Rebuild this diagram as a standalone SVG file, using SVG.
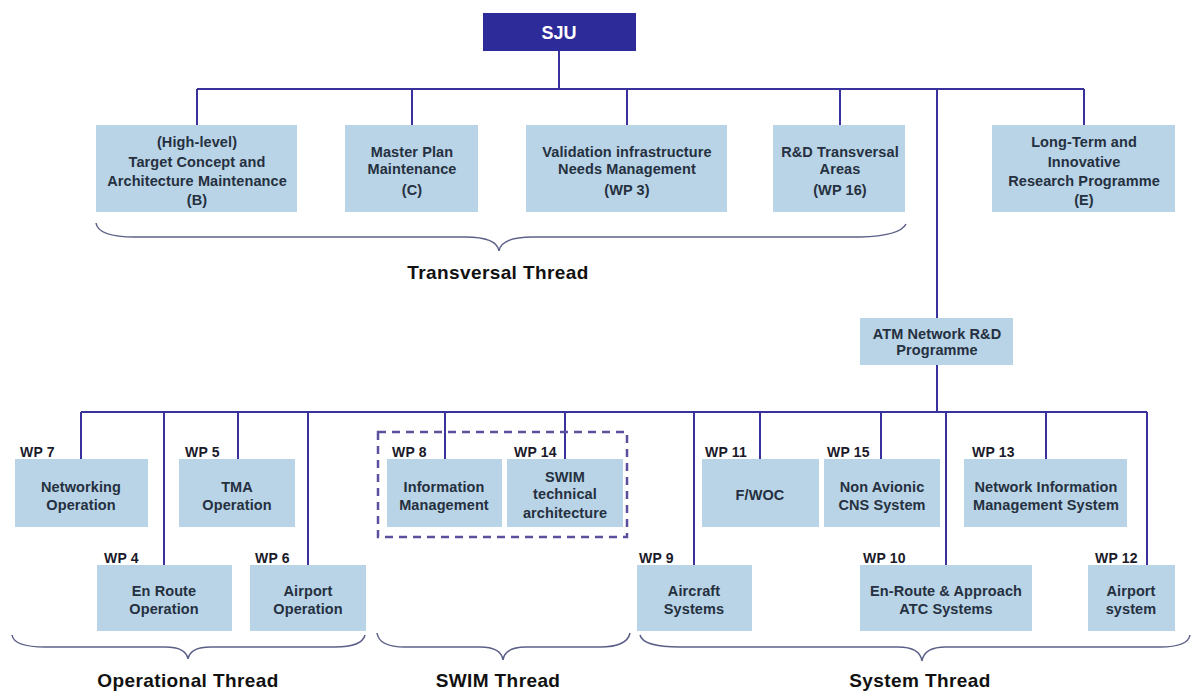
<svg xmlns="http://www.w3.org/2000/svg" width="1194" height="691" viewBox="0 0 1194 691">
<style>
.box{fill:#b9d4e6}
.t{font-family:"Liberation Sans",Arial,sans-serif;font-weight:bold;font-size:14.5px;fill:#253040;text-anchor:middle;letter-spacing:0.1px}
.wp{font-family:"Liberation Sans",Arial,sans-serif;font-weight:bold;font-size:14px;fill:#1a1a2a;letter-spacing:0.2px}
.th{font-family:"Liberation Sans",Arial,sans-serif;font-weight:bold;font-size:19px;fill:#111;text-anchor:middle;letter-spacing:0.4px}
.ln{stroke:#3a329c;stroke-width:2;fill:none}
.br{stroke:#5c6088;stroke-width:1.5;fill:none}
</style>
<rect width="1194" height="691" fill="#ffffff"/>
<g id="connectors">
<path class="ln" d="M559,51 V89 M197,89 H1084 M197,89 V125 M412,89 V125 M627,89 V125 M840,89 V125 M1084,89 V125 M937,89 V318"/>
<path class="ln" d="M937,365 V412" stroke-width="3"/>
<path class="ln" d="M81,412 H1147 M81,412 V459 M164,412 V565 M238,412 V459 M308,412 V565 M445,412 V459 M565,412 V459 M694,412 V565 M760,412 V459 M881,412 V459 M946,412 V565 M1046,412 V459 M1147,412 V565"/>
</g>
<g id="sju"><rect x="483" y="13" width="153" height="38" fill="#2d2a9a"/><text x="559" y="39" style="font-family:'Liberation Sans',Arial,sans-serif;font-weight:bold;font-size:18px;fill:#fff;text-anchor:middle">SJU</text></g>
<g id="b"><rect class="box" x="96" y="125" width="201" height="87"/><text class="t" x="197" y="147">(High-level)</text><text class="t" x="197" y="167">Target Concept and</text><text class="t" x="197" y="186">Architecture Maintenance</text><text class="t" x="197" y="205">(B)</text></g>
<g id="c"><rect class="box" x="345" y="125" width="133" height="87"/><text class="t" x="412" y="157">Master Plan</text><text class="t" x="412" y="174">Maintenance</text><text class="t" x="412" y="195">(C)</text></g>
<g id="wp3"><rect class="box" x="526" y="125" width="201" height="87"/><text class="t" x="627" y="157">Validation infrastructure</text><text class="t" x="627" y="174">Needs Management</text><text class="t" x="627" y="195">(WP 3)</text></g>
<g id="wp16"><rect class="box" x="773" y="125" width="132" height="87"/><text class="t" x="840" y="157">R&amp;D Transversal</text><text class="t" x="840" y="174">Areas</text><text class="t" x="840" y="195">(WP 16)</text></g>
<g id="e"><rect class="box" x="992" y="125" width="183" height="87"/><text class="t" x="1084" y="147">Long-Term and</text><text class="t" x="1084" y="167">Innovative</text><text class="t" x="1084" y="186">Research Programme</text><text class="t" x="1084" y="205">(E)</text></g>
<g id="transversal"><path class="br" d="M96,223 Q98,237 135,237 L465,237 Q497,237 499,251 Q501,237 533,237 L860,237 Q900,236 906,224"/><text class="th" x="498" y="279">Transversal Thread</text></g>
<g id="atm"><rect class="box" x="860" y="318" width="153" height="47"/><text class="t" x="937" y="339">ATM Network R&amp;D</text><text class="t" x="937" y="355">Programme</text></g>
<g id="wp7"><text class="wp" x="20" y="457">WP 7</text><rect class="box" x="15" y="459" width="133" height="68"/><text class="t" x="81" y="492">Networking</text><text class="t" x="81" y="510">Operation</text></g>
<g id="wp5"><text class="wp" x="185" y="457">WP 5</text><rect class="box" x="179" y="459" width="116" height="68"/><text class="t" x="237" y="492">TMA</text><text class="t" x="237" y="510">Operation</text></g>
<g id="wp4"><text class="wp" x="104" y="563">WP 4</text><rect class="box" x="97" y="565" width="135" height="66"/><text class="t" x="164" y="596">En Route</text><text class="t" x="164" y="614">Operation</text></g>
<g id="wp6"><text class="wp" x="255" y="563">WP 6</text><rect class="box" x="250" y="565" width="116" height="66"/><text class="t" x="308" y="596">Airport</text><text class="t" x="308" y="614">Operation</text></g>
<g id="swimgroup"><rect x="378" y="432" width="249" height="105" fill="none" stroke="#5a509e" stroke-width="2.5" stroke-dasharray="8,6"/></g>
<g id="wp8"><text class="wp" x="392" y="457">WP 8</text><rect class="box" x="387" y="459" width="115" height="68"/><text class="t" x="444" y="492">Information</text><text class="t" x="444" y="510">Management</text></g>
<g id="wp14"><text class="wp" x="514" y="457">WP 14</text><rect class="box" x="507" y="459" width="116" height="68"/><text class="t" x="565" y="482">SWIM</text><text class="t" x="565" y="499">technical</text><text class="t" x="565" y="518">architecture</text></g>
<g id="wp9"><text class="wp" x="639" y="563">WP 9</text><rect class="box" x="637" y="565" width="115" height="66"/><text class="t" x="694" y="596">Aircraft</text><text class="t" x="694" y="614">Systems</text></g>
<g id="wp11"><text class="wp" x="705" y="457">WP 11</text><rect class="box" x="702" y="459" width="117" height="68"/><text class="t" x="760" y="500">F/WOC</text></g>
<g id="wp15"><text class="wp" x="827" y="457">WP 15</text><rect class="box" x="824" y="459" width="116" height="68"/><text class="t" x="882" y="492">Non Avionic</text><text class="t" x="882" y="510">CNS System</text></g>
<g id="wp13"><text class="wp" x="972" y="457">WP 13</text><rect class="box" x="964" y="459" width="163" height="68"/><text class="t" x="1046" y="492">Network Information</text><text class="t" x="1046" y="510">Management System</text></g>
<g id="wp10"><text class="wp" x="863" y="563">WP 10</text><rect class="box" x="860" y="565" width="172" height="66"/><text class="t" x="946" y="596">En-Route &amp; Approach</text><text class="t" x="946" y="614">ATC Systems</text></g>
<g id="wp12"><text class="wp" x="1095" y="563">WP 12</text><rect class="box" x="1088" y="565" width="87" height="66"/><text class="t" x="1131" y="596">Airport</text><text class="t" x="1131" y="614">system</text></g>
<g id="operational"><path class="br" d="M12,635 Q14,647 45,647 L165,647 Q186,647 188,659 Q190,647 211,647 L335,647 Q362,647 365,635"/><text class="th" x="188" y="687">Operational Thread</text></g>
<g id="swim"><path class="br" d="M377,633 Q379,647 405,647 L480,647 Q501,647 503,660 Q505,647 526,647 L600,647 Q627,647 630,633"/><text class="th" x="498" y="687">SWIM Thread</text></g>
<g id="system"><path class="br" d="M640,635 Q643,647 680,647 L898,647 Q920,647 922,661 Q924,647 946,647 L1160,647 Q1188,647 1190,635"/><text class="th" x="920" y="687">System Thread</text></g>
</svg>
